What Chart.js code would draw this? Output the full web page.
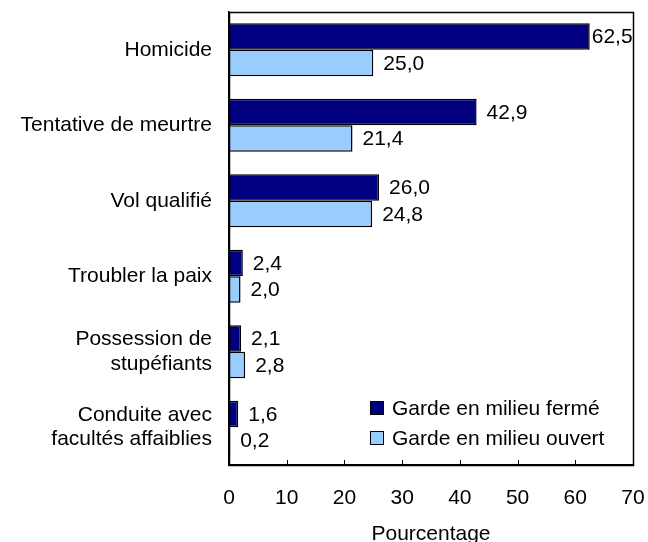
<!DOCTYPE html>
<html>
<head>
<meta charset="utf-8">
<script src="https://cdn.jsdelivr.net/npm/chart.js@4"></script>
<style>
  html, body { margin: 0; padding: 0; background: #fff; }
  #c { display: block; }
</style>
</head>
<body>
<canvas id="c" width="648" height="542"></canvas>
<script>
const categories = [
    'Homicide',
    'Tentative de meurtre',
    'Vol qualifié',
    'Troubler la paix',
    ['Possession de', 'stupéfiants'],
    ['Conduite avec', 'facultés affaiblies']
];
const closedCustody = [62.5, 42.9, 26.0, 2.4, 2.1, 1.6];
const openCustody = [25.0, 21.4, 24.8, 2.0, 2.8, 0.2];
const seriesNames = ['Garde en milieu fermé', 'Garde en milieu ouvert'];
const xTicks = [0, 10, 20, 30, 40, 50, 60, 70];

const FONT = 'Arial, "Liberation Sans", sans-serif';
const FSIZE = 21;

// box around the plot, inside ticks, value labels and legend inside the plot
const extras = {
    id: 'extras',
    afterDatasetsDraw(chart) {
        const ctx = chart.ctx;
        const area = chart.chartArea;
        ctx.save();
        ctx.strokeStyle = '#000';
        ctx.lineWidth = 1.5;
        ctx.strokeRect(Math.round(area.left) + 0.5, Math.round(area.top) + 0.5,
            Math.round(area.right - area.left), Math.round(area.bottom - area.top));

        const xs = chart.scales.x;
        ctx.lineWidth = 1;
        xTicks.forEach(v => {
            const px = Math.round(xs.getPixelForValue(v)) + 0.5;
            ctx.beginPath();
            ctx.moveTo(px, area.bottom);
            ctx.lineTo(px, area.bottom - 5);
            ctx.stroke();
        });

        ctx.font = FSIZE + 'px ' + FONT;
        ctx.fillStyle = '#000';
        ctx.textBaseline = 'middle';
        ctx.textAlign = 'left';
        chart.data.datasets.forEach((ds, i) => {
            chart.getDatasetMeta(i).data.forEach((bar, j) => {
                const txt = ds.data[j].toFixed(1).replace('.', ',');
                const w = ctx.measureText(txt).width;
                let x = bar.x + 10;
                if (x + w > area.right + 3) x = bar.x + 2;
                ctx.fillText(txt, x, bar.y + 1);
            });
        });

        // legend
        const lx = area.left + 141, ly = [408, 438];
        chart.data.datasets.forEach((ds, i) => {
            ctx.fillStyle = ds.backgroundColor;
            ctx.fillRect(lx, ly[i] - 7, 14, 14);
            ctx.strokeStyle = '#000';
            ctx.strokeRect(lx + 0.5, ly[i] - 6.5, 13, 13);
            ctx.fillStyle = '#000';
            ctx.fillText(ds.label, lx + 22, ly[i] + 1);
        });
        ctx.restore();
    }
};

new Chart(document.getElementById('c'), {
    type: 'bar',
    data: {
        labels: categories,
        datasets: [{
            label: seriesNames[0],
            data: closedCustody,
            backgroundColor: '#000080',
            borderColor: '#000',
            borderWidth: 1.5
        }, {
            label: seriesNames[1],
            data: openCustody,
            backgroundColor: '#99CCFF',
            borderColor: '#000',
            borderWidth: 1.5
        }]
    },
    options: {
        indexAxis: 'y',
        responsive: false,
        animation: false,
        layout: { padding: { top: 12, right: 15, left: 0, bottom: 0 } },
        datasets: { bar: { categoryPercentage: 0.7, barPercentage: 1 } },
        plugins: {
            legend: { display: false },
            tooltip: { enabled: false }
        },
        scales: {
            x: {
                min: 0,
                max: 70,
                afterBuildTicks(scale) { scale.ticks = xTicks.map(v => ({ value: v })); },
                afterFit(scale) {
                    scale.height = 77;
                    scale.paddingLeft = 0;
                    scale.paddingRight = 0;
                },
                grid: { display: false },
                border: { color: '#000', width: 1.5 },
                ticks: { color: '#000', font: { family: FONT, size: FSIZE }, padding: 13, maxRotation: 0 },
                title: {
                    display: true,
                    text: 'Pourcentage',
                    color: '#000',
                    font: { family: FONT, size: FSIZE },
                    padding: { top: 8, bottom: -5 }
                }
            },
            y: {
                afterFit(scale) {
                    scale.width = 229;
                    scale.paddingTop = 0;
                    scale.paddingBottom = 0;
                },
                grid: { display: false },
                border: { color: '#000', width: 1.5 },
                ticks: { color: '#000', font: { family: FONT, size: FSIZE, lineHeight: 1.15 }, padding: 9 }
            }
        }
    },
    plugins: [extras]
});
</script>
</body>
</html>
